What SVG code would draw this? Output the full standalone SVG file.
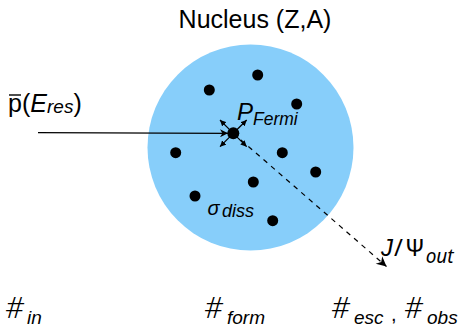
<svg xmlns="http://www.w3.org/2000/svg" width="473" height="327" viewBox="0 0 473 327">
<style>
.t{font-family:"Liberation Sans",Arial,sans-serif;fill:#000}
.i{font-style:italic}
.h{font-family:"Noto Sans",sans-serif;font-size:30px;font-style:italic;font-weight:300}
.dot{fill:#000}
.ln{stroke:#000;stroke-width:1.2;fill:none}
</style>
<defs>
<marker id="ah" viewBox="0 0 10 10" refX="10" refY="5" markerWidth="10" markerHeight="8" markerUnits="userSpaceOnUse" orient="auto"><path d="M0,0 L10,5 L0,10 L3,5 z" fill="#000"/></marker>
<marker id="sa" viewBox="0 0 10 10" refX="10" refY="5" markerWidth="6" markerHeight="6" markerUnits="userSpaceOnUse" orient="auto"><path d="M0,0 L10,5 L0,10 z" fill="#000"/></marker>
<marker id="ah2" viewBox="0 0 10 10" refX="10" refY="5" markerWidth="14" markerHeight="10" markerUnits="userSpaceOnUse" orient="auto"><path d="M0,0 L10,5 L0,10 L3,5 z" fill="#000"/></marker>
</defs>
<g id="nucleus">
<circle cx="250.5" cy="147.5" r="103" fill="#87CEFA"/>
<text class="t" x="255" y="28" font-size="25" text-anchor="middle">Nucleus (Z,A)</text>
</g>
<g id="nucleons">
<circle class="dot" cx="257.7" cy="75" r="5.5"/>
<circle class="dot" cx="209.3" cy="90" r="5.5"/>
<circle class="dot" cx="296.7" cy="104" r="5.5"/>
<circle class="dot" cx="175.7" cy="152.7" r="5.5"/>
<circle class="dot" cx="282.3" cy="152.7" r="5.5"/>
<circle class="dot" cx="315.7" cy="172" r="5.5"/>
<circle class="dot" cx="253.3" cy="182" r="5.5"/>
<circle class="dot" cx="195" cy="196" r="5.5"/>
<circle class="dot" cx="272.7" cy="220.7" r="5.5"/>
</g>
<g id="target">
<circle class="dot" cx="233.3" cy="133.3" r="6"/>
<text class="t i" x="237" y="120" font-size="24">P</text>
<text class="t i" x="253" y="125" font-size="17.5">Fermi</text>
</g>
<g id="sigma">
<text class="t i" x="207.5" y="215" font-size="20">σ</text>
<text class="t i" x="222" y="217" font-size="18">diss</text>
</g>
<g id="connectors">
<line class="ln" x1="38" y1="132.7" x2="228" y2="133.3" marker-end="url(#ah)"/>
<line class="ln" x1="233.3" y1="133.3" x2="386.5" y2="266.5" stroke-dasharray="5,5" marker-end="url(#ah2)"/>
<line class="ln" x1="233.3" y1="133.3" x2="220" y2="120" marker-end="url(#sa)"/>
<line class="ln" x1="233.3" y1="133.3" x2="246.7" y2="120" marker-end="url(#sa)"/>
<line class="ln" x1="233.3" y1="133.3" x2="220" y2="146.7" marker-end="url(#sa)"/>
<line class="ln" x1="233.3" y1="133.3" x2="246.7" y2="146.7" marker-end="url(#sa)"/>
</g>
<g id="beam">
<text class="t" x="8" y="112" font-size="25">p</text>
<line x1="9" y1="95" x2="21" y2="95" stroke="#000" stroke-width="1.4"/>
<text class="t" x="22" y="112" font-size="25">(<tspan class="i">E</tspan><tspan class="i" font-size="19" dy="1">res</tspan><tspan dy="-1">)</tspan></text>
</g>
<g id="out">
<text x="381" y="256" font-size="24" font-family="'Noto Sans','Open Sans',sans-serif"><tspan font-style="italic" font-family="'Liberation Sans',Arial,sans-serif">J</tspan><tspan dx="1">/</tspan><tspan dx="2">Ψ</tspan><tspan font-style="italic" font-size="19" dx="1" dy="7">out</tspan></text>
</g>
<g id="labels">
<text x="5" y="318" class="h">#</text>
<text x="27" y="324" font-size="19" class="t i">in</text>
<text x="204" y="318" class="h">#</text>
<text x="227" y="324" font-size="19" class="t i">form</text>
<text x="331" y="318" class="h">#</text>
<text x="354" y="324" font-size="19" class="t i">esc</text>
<text x="391" y="321" font-size="20" class="t">,</text>
<text x="404" y="318" class="h">#</text>
<text x="427" y="324" font-size="19" class="t i">obs</text>
</g>
</svg>
